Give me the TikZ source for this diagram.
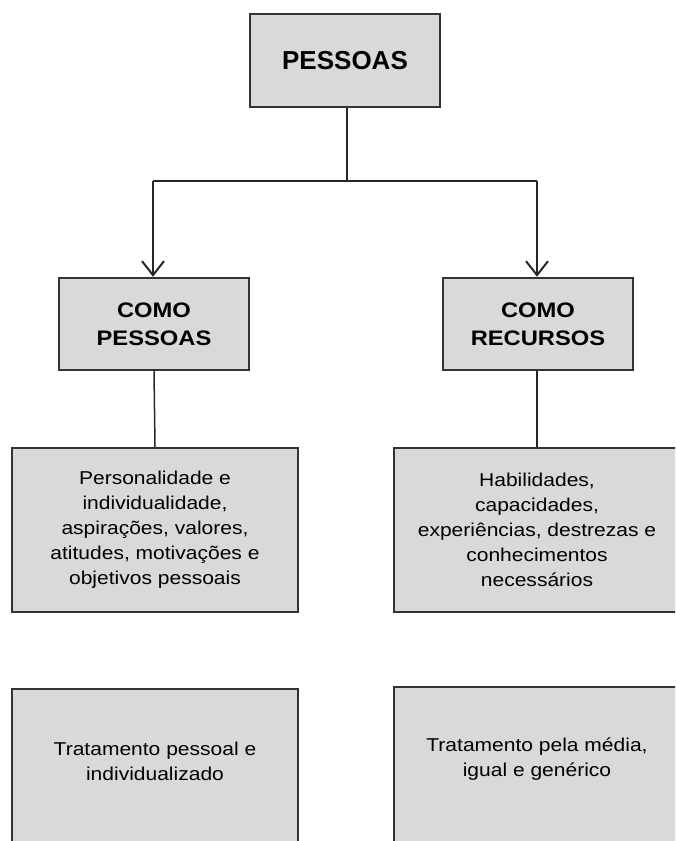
\documentclass[tikz,border=0pt]{standalone}
\usepackage{fontspec}
\setmainfont{Liberation Sans}
\newfontfamily\wfont{Liberation Sans}[FakeStretch=1.13]
\usetikzlibrary{arrows.meta}
\begin{document}
\begin{tikzpicture}[x=1pt,y=-1pt,
  box/.style={draw=black!80, line width=2.5pt, fill=black!15, rectangle, align=center, inner sep=0pt},
  conn/.style={draw=black!85, line width=1.5pt},
  arr/.style={conn, line width=2pt, -{Straight Barb[length=14pt,width=22pt]}},
  head/.style={font=\wfont\bfseries\fontsize{21}{28}\selectfont},
  body/.style={align=center, font=\wfont\fontsize{18.6}{25}\selectfont}]
\useasboundingbox (0,0) rectangle (675,841);
\clip (0,0) rectangle (675,841);
\coordinate (split) at (347,181);
\coordinate (sl) at (153,181);
\coordinate (sr) at (537,181);
\node[box, minimum width=190pt, minimum height=93pt, font=\bfseries\fontsize{26}{30}\selectfont] (top) at (345,60.5) {PESSOAS};
\node[box, head, minimum width=190pt, minimum height=92pt] (cp) at (154,324) {COMO\\PESSOAS};
\node[box, head, minimum width=190pt, minimum height=92pt] (cr) at (538,324) {COMO\\RECURSOS};
\node[box, body, minimum width=286pt, minimum height=164pt] (mp) at (155,530) {Personalidade e\\individualidade,\\aspirações, valores,\\atitudes, motivações e\\objetivos pessoais};
\node[box, body, minimum width=286pt, minimum height=164pt] (mr) at (537,530) {Habilidades,\\capacidades,\\experiências, destrezas e\\conhecimentos\\necessários};
\node[box, minimum width=286pt, minimum height=200pt] (bp) at (155,789) {};
\node[box, minimum width=286pt, minimum height=200pt] (br) at (537,787) {};
\node[body] (tp) at (155,761) {Tratamento pessoal e\\individualizado};
\node[body] (tr) at (537,759) {Tratamento pela média,\\igual e genérico};
\draw[conn] (top.south -| split) -- (split);
\draw[conn, line width=2pt] (sl) -- (sr);
\draw[arr] (sl) -- (cp.north -| sl);
\draw[arr] (sr) -- (cr.north -| sr);
\draw[conn] (cp.south) -- (mp.north);
\draw[conn] (cr.south -| mr.north) -- (mr.north);
\end{tikzpicture}
\end{document}
